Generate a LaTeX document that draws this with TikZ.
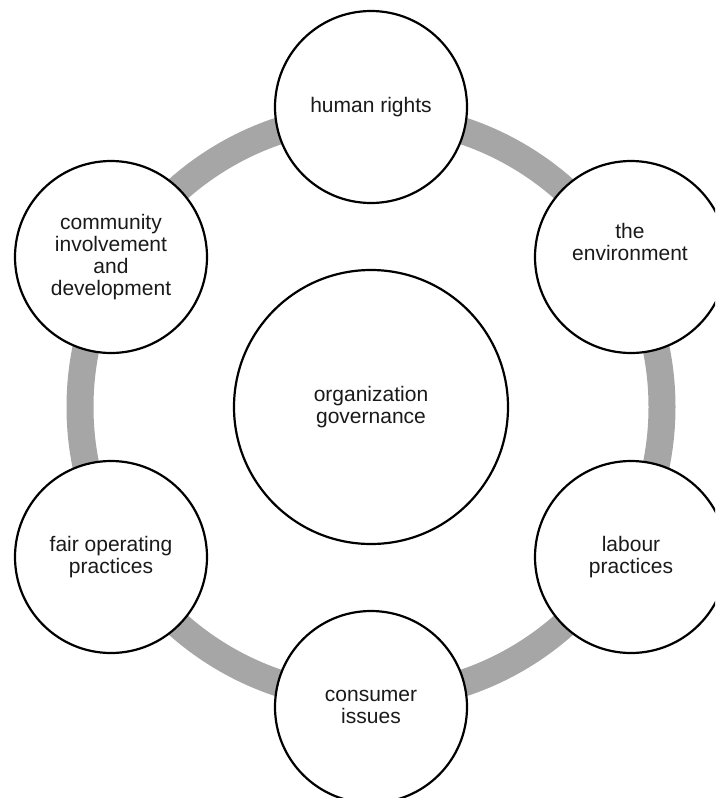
\documentclass[tikz,border=0pt]{standalone}
\usepackage{fontspec}
\setmainfont{Liberation Sans}
\definecolor{ringgray}{RGB}{166,166,166}
\definecolor{txt}{RGB}{26,26,26}
\tikzset{
  topic/.style={circle, draw=black, line width=2.2pt, fill=white, minimum size=192pt, inner sep=0pt, outer sep=0pt, align=center, text=txt, font=\fontsize{21}{22}\selectfont},
  core/.style={topic, minimum size=274pt},
  lbl/.style={inner sep=0pt, align=center, text=txt, font=\fontsize{21}{22}\selectfont},
  ringline/.style={draw=ringgray, line width=27pt}
}
\begin{document}
\begin{tikzpicture}[x=1pt, y=-1pt]
\useasboundingbox (0,0) rectangle (715,798);
\clip (0,0) rectangle (715,798);
\coordinate (mid) at (371,407);
\draw[ringline] (mid) circle[radius=291pt];
\node[core] (gov) at (mid) {organization\\governance};
\node[topic] (hr) at (371,107) {human rights};
\node[topic] (env) at (631,257) {};
\node[lbl] (envtext) at (630,242) {the\\environment};
\node[topic] (lab) at (631,557) {labour\\practices};
\node[topic] (con) at (371,707) {consumer\\issues};
\node[topic] (fair) at (111,557) {fair operating\\practices};
\node[topic] (com) at (111,257) {community\\involvement\\and\\development};
\end{tikzpicture}
\end{document}
